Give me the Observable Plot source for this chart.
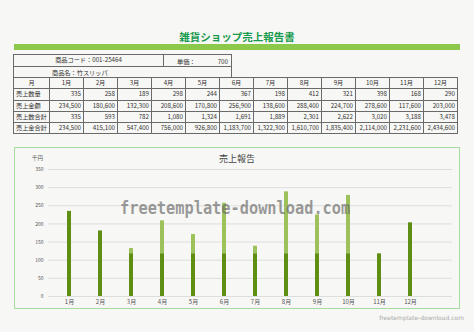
<!DOCTYPE html>
<html><head><meta charset="utf-8">
<script src="https://cdn.jsdelivr.net/npm/d3@7"></script>
<script src="https://cdn.jsdelivr.net/npm/@observablehq/plot@0.6"></script>
<style>
body{margin:0;background:#f7f7f5;font-family:"Noto Sans CJK JP",sans-serif;}
#page{position:relative;width:474px;height:332px;overflow:hidden;}
.abs{position:absolute;white-space:nowrap;}
.cell{position:absolute;box-sizing:border-box;border:1px solid #6a6a6a;font-size:6.2px;line-height:1;color:#333;display:flex;align-items:center;padding:0 2px;white-space:nowrap;overflow:hidden;}
</style></head>
<body><div id="page"></div>
<script>
const title = "雑貨ショップ売上報告書";
const productCode = "商品コード：001-25464";
const unitPriceLabel = "単価：";
const unitPrice = "700";
const productName = "商品名：竹スリッパ";
const rowLabels = ["売上数量", "売上金額", "売上数合計", "売上金合計"];
const months = ["1月","2月","3月","4月","5月","6月","7月","8月","9月","10月","11月","12月"];
const qty = [335, 258, 189, 298, 244, 367, 198, 412, 321, 398, 168, 290];
const amount = [234500, 180600, 132300, 208600, 170800, 256900, 138600, 288400, 224700, 278600, 117600, 203000];
const qtyTotal = [335, 593, 782, 1080, 1324, 1691, 1889, 2301, 2622, 3020, 3188, 3478];
const amountTotal = [234500, 415100, 547400, 756000, 926800, 1183700, 1322300, 1610700, 1835400, 2114000, 2231600, 2434600];
// chart (千円): dark lower part and light upper part
const chartTitle = "売上報告";
const unitLabel = "千円";
const darkPart = [234.5, 180.6, 118, 118, 118, 118, 118, 118, 118, 118, 117.6, 203.0];
const lightPart = [0, 0, 14.3, 90.6, 52.8, 138.9, 20.6, 170.4, 106.7, 160.6, 0, 0];
const yTicks = [0, 50, 100, 150, 200, 250, 300, 350];
const watermark = "freetemplate-download.com";

const page = document.getElementById("page");
function add(html, style){const d=document.createElement("div");d.className="abs";d.innerHTML=html;Object.assign(d.style,style);page.appendChild(d);return d;}

// title + green band
add(title,{left:"0px",width:"474px",top:"30px",textAlign:"center",fontSize:"10.5px",fontWeight:"bold",color:"#169a4c",lineHeight:"13px"});
add("",{left:"14px",top:"44px",width:"446px",height:"6px",background:"#8cc84a"});

// table
function cell(x1,y1,x2,y2,text,align){
  const d=document.createElement("div");d.className="cell";
  Object.assign(d.style,{left:x1+"px",top:y1+"px",width:(x2-x1+1)+"px",height:(y2-y1+1)+"px",justifyContent:align});
  d.textContent=text;page.appendChild(d);
}
cell(13,54,163,65.5,productCode,"center");
cell(163,54,231,65.5,"","flex-start");
add(unitPriceLabel,{left:"177px",top:"56.5px",fontSize:"6.2px",color:"#333"});
add(unitPrice,{left:"200px",width:"28px",textAlign:"right",top:"56.5px",fontSize:"6.2px",color:"#333"});
cell(13,65.5,231,77,"","center");
add(productName,{left:"52px",top:"68px",fontSize:"6.2px",color:"#333"});
const colX=[13,49];for(let i=1;i<=12;i++)colX.push(49+34*i);
const rowY=[];for(let i=0;i<=5;i++)rowY.push(77+i*11.3);
const fmt=d3.format(",");
cell(colX[0],rowY[0],colX[1],rowY[1],"月","center");
months.forEach((m,i)=>cell(colX[i+1],rowY[0],colX[i+2],rowY[1],m,"center"));
[qty,amount,qtyTotal,amountTotal].forEach((arr,r)=>{
  cell(colX[0],rowY[r+1],colX[1],rowY[r+2],rowLabels[r],"flex-start");
  arr.forEach((v,i)=>cell(colX[i+1],rowY[r+1],colX[i+2],rowY[r+2],fmt(v),"flex-end"));
});

// chart box
add("",{left:"14px",top:"147px",width:"446px",height:"162px",border:"1.5px solid #a6dca0",boxSizing:"border-box"});
add(chartTitle,{left:"0px",width:"474px",textAlign:"center",top:"152px",fontSize:"9px",color:"#444"});
add(unitLabel,{left:"32px",top:"154px",fontSize:"5.5px",color:"#555"});

const data = months.map((m,i)=>({month:m,dark:darkPart[i],total:darkPart[i]+lightPart[i]}));
const chart = Plot.plot({
  width:474,height:175,
  marginLeft:48,marginRight:22,marginTop:29,marginBottom:19,
  style:{background:"transparent",fontFamily:"'Noto Sans CJK JP',sans-serif",color:"#555"},
  x:{domain:months,range:[38,442],padding:0.86,label:null},
  y:{domain:[0,350],ticks:yTicks,label:null},
  marks:[
    Plot.ruleY(yTicks,{stroke:"#d6d6d6",strokeWidth:0.8}),
    Plot.barY(data,{x:"month",y1:0,y2:"dark",fill:"#5f8f12"}),
    Plot.barY(data.filter(d=>d.total>d.dark),{x:"month",y1:"dark",y2:"total",fill:"#9dc25c"}),
    Plot.axisY(yTicks,{tickSize:0,tickPadding:5,fontSize:5,label:null}),
    Plot.axisX({tickSize:0,tickPadding:3,fontSize:6,label:null})
  ]
});
Object.assign(chart.style,{position:"absolute",left:"0px",top:"140px"});
page.appendChild(chart);

add(watermark,{left:"120px",top:"199px",fontFamily:"'DejaVu Sans Mono',monospace",fontWeight:"bold",fontSize:"15.3px",color:"rgba(110,110,110,0.7)",transform:"scaleY(1.15)"});
add(watermark,{left:"364px",width:"100px",textAlign:"right",top:"314px",fontSize:"6px",color:"#aaa",fontFamily:"'DejaVu Sans',sans-serif"});
</script></body></html>
